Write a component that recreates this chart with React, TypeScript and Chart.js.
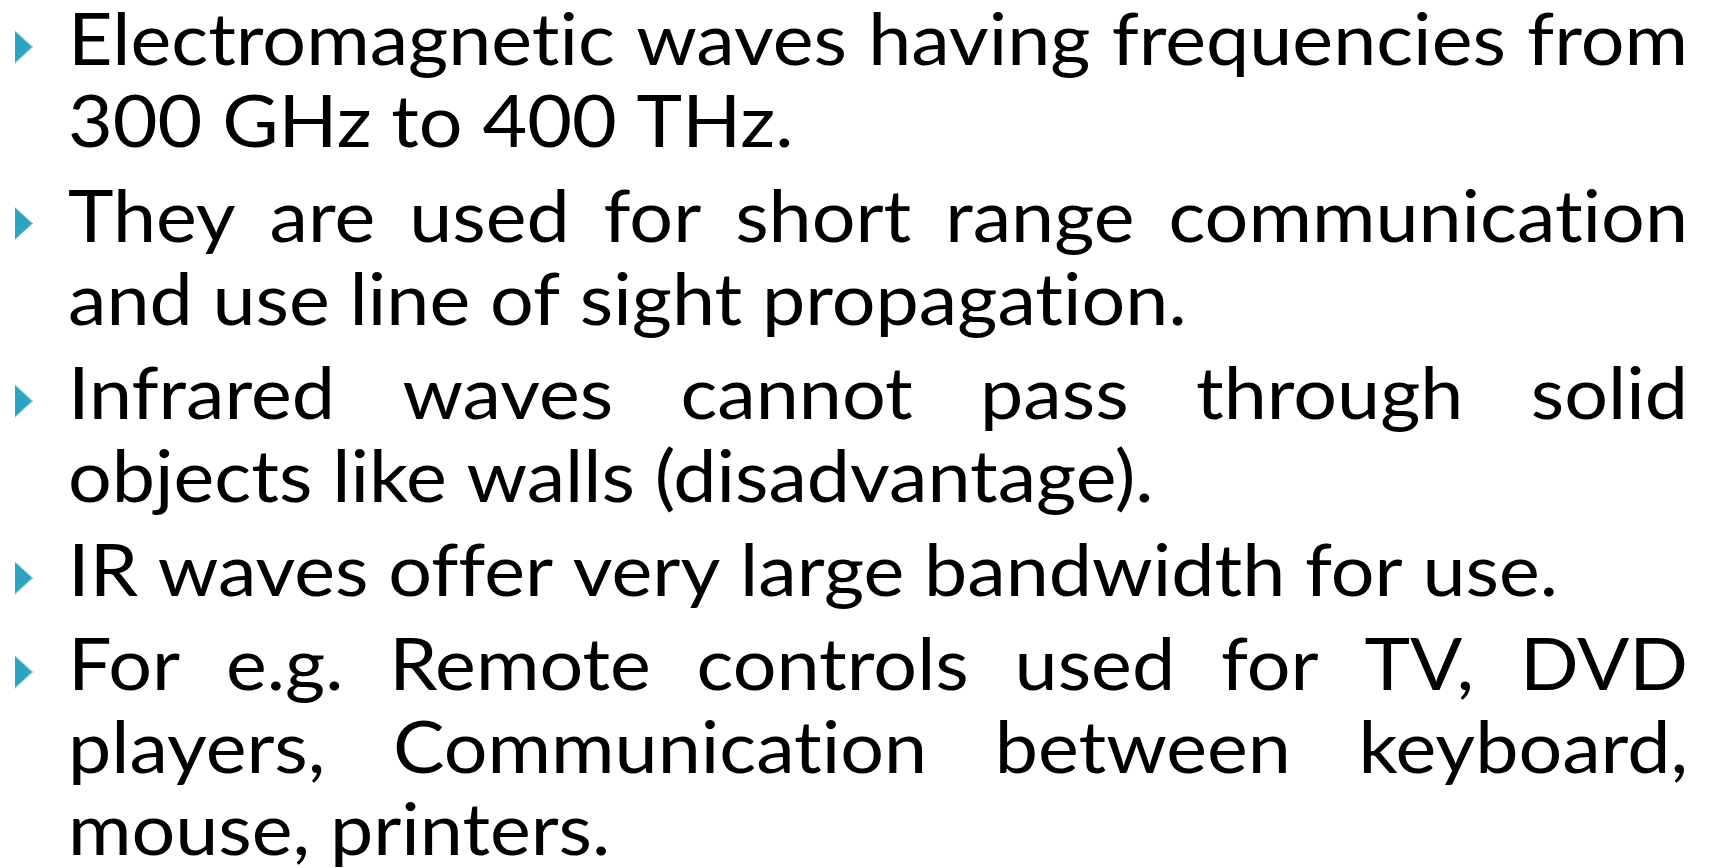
import React, { useEffect, useRef } from "react";
import { Chart, registerables } from "chart.js";

Chart.register(...registerables);

// ---- content ----
const para1: string[] = ["Electromagnetic waves having frequencies from", "300 GHz to 400 THz."];
const para2: string[] = ["They are used for short range communication", "and use line of sight propagation."];
const para3: string[] = ["Infrared waves cannot pass through solid", "objects like walls (disadvantage)."];
const para4: string[] = ["IR waves offer very large bandwidth for use."];
const para5: string[] = ["For e.g. Remote controls used for TV, DVD", "players, Communication between keyboard,", "mouse, printers."];
const paragraphs: string[][] = [para1, para2, para3, para4, para5];

// baselines of each line (page pixels, y axis runs top -> bottom)
const baselines1: number[] = [65, 147];
const baselines2: number[] = [241.5, 324.5];
const baselines3: number[] = [419, 502];
const baselines4: number[] = [596];
const baselines5: number[] = [690, 773, 855];
const lineBaselines: number[][] = [baselines1, baselines2, baselines3, baselines4, baselines5];

// ---- layout / style ----
const W = 1713;
const H = 868;
const TEXT_LEFT = 68;
const TEXT_RIGHT = 1688;
const REF_LINE = "IR waves offer very large bandwidth for use.";
const REF_RIGHT = 1558;
const FONT_SIZE = 71;
const FONT_FAMILY = "Lato";
const BULLET_X = 23.5;
const BULLET_OFFSET = 18;
const BULLET_COLOR = "#2ba3c1";

const textPlugin = {
  id: "slideText",
  afterDatasetsDraw(chart: any) {
    const ctx: CanvasRenderingContext2D = chart.ctx;
    const xs = chart.scales.x;
    const ys = chart.scales.y;
    ctx.save();
    ctx.font = `${FONT_SIZE}px ${FONT_FAMILY}`;
    try {
      (ctx as any).letterSpacing = "0.01px";
    } catch (e) {}
    ctx.fillStyle = "#000000";
    ctx.textBaseline = "alphabetic";
    ctx.textAlign = "left";
    const left = xs.getPixelForValue(TEXT_LEFT);
    const right = xs.getPixelForValue(TEXT_RIGHT);
    const refW = ctx.measureText(REF_LINE).width;
    const sx = (xs.getPixelForValue(REF_RIGHT) - left) / refW;
    paragraphs.forEach((lines, pi) => {
      lines.forEach((line, li) => {
        const y = ys.getPixelForValue(lineBaselines[pi][li]);
        const last = li === lines.length - 1;
        ctx.save();
        ctx.translate(left, y);
        ctx.scale(sx, 1);
        if (last) {
          ctx.fillText(line, 0, 0);
        } else {
          const words = line.split(" ");
          const ws = words.map((w) => ctx.measureText(w).width);
          const total = ws.reduce((a, b) => a + b, 0);
          const gap = ((right - left) / sx - total) / (words.length - 1);
          let x = 0;
          words.forEach((w, i) => {
            ctx.fillText(w, x, 0);
            x += ws[i] + gap;
          });
        }
        ctx.restore();
      });
    });
    ctx.restore();
  },
};

export default function App() {
  const ref = useRef<HTMLCanvasElement | null>(null);
  useEffect(() => {
    const canvas = ref.current;
    if (!canvas) return;
    const tri = document.createElement("canvas");
    tri.width = 18;
    tri.height = 33;
    const tctx = tri.getContext("2d")!;
    tctx.fillStyle = BULLET_COLOR;
    tctx.beginPath();
    tctx.moveTo(0, 0);
    tctx.lineTo(18, 16.5);
    tctx.lineTo(0, 33);
    tctx.closePath();
    tctx.fill();

    const bulletPoints = lineBaselines.map((b) => ({ x: BULLET_X, y: b[0] - BULLET_OFFSET }));

    const chart = new Chart(canvas, {
      type: "scatter",
      data: {
        datasets: [
          {
            label: "bullets",
            data: bulletPoints,
            pointStyle: tri as any,
            pointRadius: 9,
            pointHoverRadius: 9,
            backgroundColor: BULLET_COLOR,
            borderWidth: 0,
            clip: false as any,
          },
        ],
      },
      options: {
        responsive: false,
        animation: false,
        devicePixelRatio: 1,
        events: [],
        layout: { padding: 0, autoPadding: false },
        plugins: { legend: { display: false }, tooltip: { enabled: false }, title: { display: false } },
        scales: {
          x: { type: "linear", min: 0, max: W, display: false },
          y: { type: "linear", min: 0, max: H, reverse: true, display: false },
        },
      },
      plugins: [textPlugin],
    });
    return () => chart.destroy();
  }, []);
  return (
    <canvas
      ref={ref}
      width={W}
      height={H}
      style={{ position: "fixed", left: 0, top: 0, width: W, height: H, background: "#ffffff" }}
    />
  );
}
